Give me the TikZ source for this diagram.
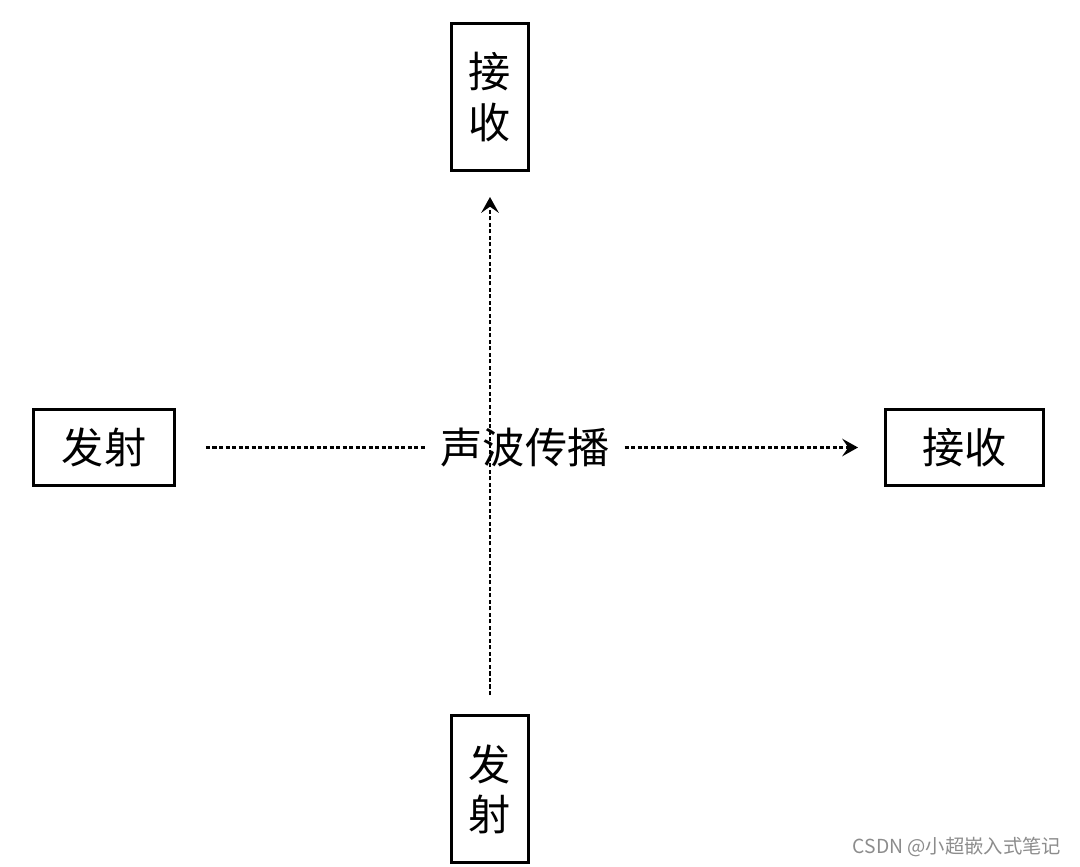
\documentclass[tikz,border=0pt]{standalone}
\usepackage{fontspec}
\newfontfamily\cjk{Noto Sans CJK SC}
\usepackage{tikz}
\usetikzlibrary{positioning,arrows.meta}
\tikzset{
>={Stealth[length=9pt, width=10pt, inset=3.5pt]},
  box/.style={
    rectangle,
    draw=black, line width=1.7pt,
    inner sep=0pt,
    align=center,
    font=\cjk\fontsize{24}{28.5}\selectfont},
  tallbox/.style={box, minimum width=1.54cm, minimum height=2.94cm},
  widebox/.style={box, minimum height=1.52cm},
  wave/.style={draw, line width=1.5pt, dash pattern=on 2.4pt off 1.3pt},
  wavetext/.style={font=\cjk\fontsize{24}{28.5}\selectfont, inner sep=0.3cm},
  watermark/.style={font=\cjk\fontsize{11}{13}\selectfont, text=black!45},
}
\begin{document}
\begin{tikzpicture}
	\useasboundingbox (-9.8,-8.37) rectangle (11.8,8.95);
	\coordinate (cross) at (0,0);

	% boxes round the crossing point
	\node[widebox, minimum width=2.82cm, left=6.28cm of cross] (tx-left) {发射};
	\node[widebox, minimum width=3.16cm, right=7.88cm of cross] (rx-right) {接收};
	\node[tallbox, above=5.51cm of cross] (rx-top) {接\\收};
	\node[tallbox, below=5.33cm of cross] (tx-bottom) {发\\射};

	\node[wavetext, right=0.7cm of cross, anchor=center] (sound) {声波传播};

	% sound paths
	\draw[wave, shorten <=0.6cm] (tx-left) -- (sound);
	\draw[wave, ->, shorten >=0.52cm] (sound) -- (rx-right);
	\draw[wave, ->, shorten <=0.38cm, shorten >=0.5cm] (tx-bottom) -- (rx-top);

	\node[watermark] (csdn) at (9.34,-7.99) {CSDN @小超嵌入式笔记};
\end{tikzpicture}
\end{document}
